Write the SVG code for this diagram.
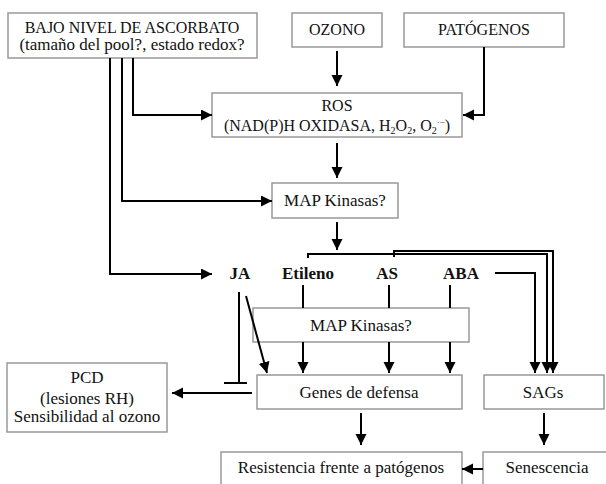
<svg xmlns="http://www.w3.org/2000/svg" width="606" height="484" viewBox="0 0 606 484">
<style>
.box{fill:#fff;stroke:#999;stroke-width:1.5}
text{font-family:"Liberation Serif","Times New Roman",serif;font-size:17px;fill:#111;text-anchor:middle}
.k{font-size:16px}
.b{font-weight:bold}
.c{fill:none;stroke:#000;stroke-width:2}
.m{marker-end:url(#a)}
</style>
<defs>
<marker id="a" markerWidth="12" markerHeight="12" refX="11" refY="5.5" orient="auto" markerUnits="userSpaceOnUse"><path d="M0,0 L11,5.5 L0,11 z" fill="#000"/></marker>
</defs>
<rect width="606" height="484" fill="#fff"/>
<g id="bajo"><rect class="box" x="8" y="13" width="249" height="45"/><text class="k" x="132" y="33">BAJO NIVEL DE ASCORBATO</text><text x="132" y="50">(tamaño del pool?, estado redox?</text></g>
<g id="ozono"><rect class="box" x="292" y="13" width="90" height="34"/><text class="k" x="337" y="35">OZONO</text></g>
<g id="patogenos"><rect class="box" x="404" y="13" width="160" height="34"/><text class="k" x="484" y="35">PATÓGENOS</text></g>
<g id="ros"><rect class="box" x="212" y="93" width="250" height="44"/><text class="k" x="337" y="111">ROS</text><text class="k" x="337" y="131">(NAD(P)H OXIDASA, H<tspan font-size="10" dy="3">2</tspan><tspan dy="-3">O</tspan><tspan font-size="10" dy="3">2</tspan><tspan dy="-3">, O</tspan><tspan font-size="10" dy="3">2</tspan><tspan font-size="9" dy="-9">·−</tspan><tspan dy="6">)</tspan></text></g>
<g id="map1"><rect class="box" x="272" y="183" width="126" height="35"/><text x="335" y="206">MAP Kinasas?</text></g>
<g id="ja"><text class="b" x="240" y="279">JA</text></g>
<g id="etileno"><text class="b" x="308" y="279">Etileno</text></g>
<g id="as"><text class="b" x="387" y="279">AS</text></g>
<g id="aba"><text class="b" x="461" y="279">ABA</text></g>
<g id="map2"><rect class="box" x="253" y="308" width="216" height="34"/><text x="361" y="331">MAP Kinasas?</text></g>
<g id="genes"><rect class="box" x="257" y="375" width="205" height="34"/><text x="359" y="398">Genes de defensa</text></g>
<g id="sags"><rect class="box" x="484" y="375" width="120" height="34"/><text x="543" y="398">SAGs</text></g>
<g id="pcd"><rect class="box" x="7" y="363" width="160" height="69"/><text x="87" y="383">PCD</text><text x="87" y="404">(lesiones RH)</text><text x="87" y="422">Sensibilidad al ozono</text></g>
<g id="resistencia"><rect class="box" x="221" y="452" width="241" height="40"/><text x="341" y="473">Resistencia frente a patógenos</text></g>
<g id="senescencia"><rect class="box" x="483" y="452" width="130" height="40"/><text x="547" y="473">Senescencia</text></g>
<g id="connectors">
<path class="c m" d="M337,51 V86"/>
<path class="c m" d="M484,47 V115 H463"/>
<path class="c m" d="M133,58 V115 H212"/>
<path class="c m" d="M122,58 V201 H272"/>
<path class="c m" d="M110,58 V274 H212"/>
<path class="c m" d="M337,143 V178"/>
<path class="c m" d="M337,222 V250"/>
<path class="c m" d="M308,258 V254 H547 V373"/>
<path class="c m" d="M394,257 V251 H553 V373"/>
<path class="c m" d="M495,273 H535 V373"/>
<path class="c" d="M303,285 V308"/>
<path class="c m" d="M303,342 V373"/>
<path class="c" d="M389,285 V308"/>
<path class="c m" d="M389,342 V373"/>
<path class="c" d="M450,285 V308"/>
<path class="c m" d="M450,342 V373"/>
<path class="c" d="M239,292 V383 M224,383 H247"/>
<path class="c m" d="M246,296 L267,373"/>
<path class="c m" d="M252,393 H172"/>
<path class="c m" d="M361,413 V445"/>
<path class="c m" d="M544,413 V445"/>
<path class="c m" d="M483,469 H462"/>
</g>
</svg>
